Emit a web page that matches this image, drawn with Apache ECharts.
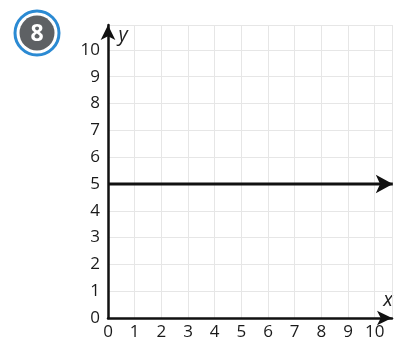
<!DOCTYPE html>
<html>
<head>
<meta charset="utf-8">
<script src="https://cdn.jsdelivr.net/npm/echarts@6/dist/echarts.min.js"></script>
<style>
  html, body { margin: 0; padding: 0; background: #fff; }
  #chart { width: 394px; height: 346px; }
</style>
</head>
<body>
<div id="chart"></div>
<script>
// Axis ranges: the axes run a little past 10 so the arrow heads sit beyond the last tick.
const xMax = 10.65;
const yMax = 10.93;
const tickLabels = [0, 1, 2, 3, 4, 5, 6, 7, 8, 9, 10];

// Horizontal line y = 5, drawn from the y-axis to the right edge with an arrow.
const lineX = [0, 10.68];
const lineY = [5, 5];

const problemNumber = '8';

const chart = echarts.init(document.getElementById('chart'));

const intOnly = v => (tickLabels.indexOf(v) >= 0 ? String(v) : '');

const axisCommon = {
  type: 'value',
  min: 0,
  interval: 1,
  axisLine: {
    show: true,
    onZero: false,
    symbol: ['none', 'arrow'],
    symbolSize: [11, 15],
    lineStyle: { color: '#111', width: 2.5 }
  },
  axisTick: { show: false },
  splitLine: { show: true, lineStyle: { color: '#e6e6e6', width: 1 } },
  axisLabel: {
    color: '#1a1a1a',
    fontSize: 17,
    fontFamily: 'Open Sans',
    formatter: intOnly,
    showMaxLabel: false
  }
};

chart.setOption({
  animation: false,
  backgroundColor: '#fff',
  grid: { left: 108, right: 2, top: 25, bottom: 28, containLabel: false },
  xAxis: Object.assign({}, axisCommon, {
    max: xMax,
    axisLabel: Object.assign({}, axisCommon.axisLabel, { margin: 6 })
  }),
  yAxis: Object.assign({}, axisCommon, {
    max: yMax,
    axisLabel: Object.assign({}, axisCommon.axisLabel, { margin: 8 })
  }),
  series: [{
    type: 'line',
    data: lineX.map((x, i) => {
      const last = i === lineX.length - 1;
      return {
        value: [x, lineY[i]],
        symbol: last ? 'arrow' : 'none',
        symbolSize: [14, 17],
        symbolRotate: -90
      };
    }),
    lineStyle: { color: '#111', width: 3 },
    itemStyle: { color: '#111' },
    clip: false,
    z: 5
  }],
  graphic: [
    { type: 'circle', shape: { cx: 37, cy: 33, r: 22 },
      style: { fill: '#fff', stroke: '#2b8ad3', lineWidth: 3 } },
    { type: 'circle', shape: { cx: 37, cy: 33, r: 17.5 },
      style: { fill: '#5e6164' } },
    { type: 'text', x: 37, y: 34,
      style: { text: problemNumber, fill: '#fff', fontSize: 23, fontWeight: 'bold',
               fontFamily: 'Open Sans', align: 'center', verticalAlign: 'middle' } },
    { type: 'text', x: 123, y: 35,
      style: { text: 'y', fill: '#222', fontSize: 20, fontStyle: 'italic',
               fontFamily: 'Open Sans', align: 'center', verticalAlign: 'middle' } },
    { type: 'text', x: 388, y: 300,
      style: { text: 'x', fill: '#222', fontSize: 20, fontStyle: 'italic',
               fontFamily: 'Open Sans', align: 'center', verticalAlign: 'middle' } }
  ]
});
</script>
</body>
</html>
